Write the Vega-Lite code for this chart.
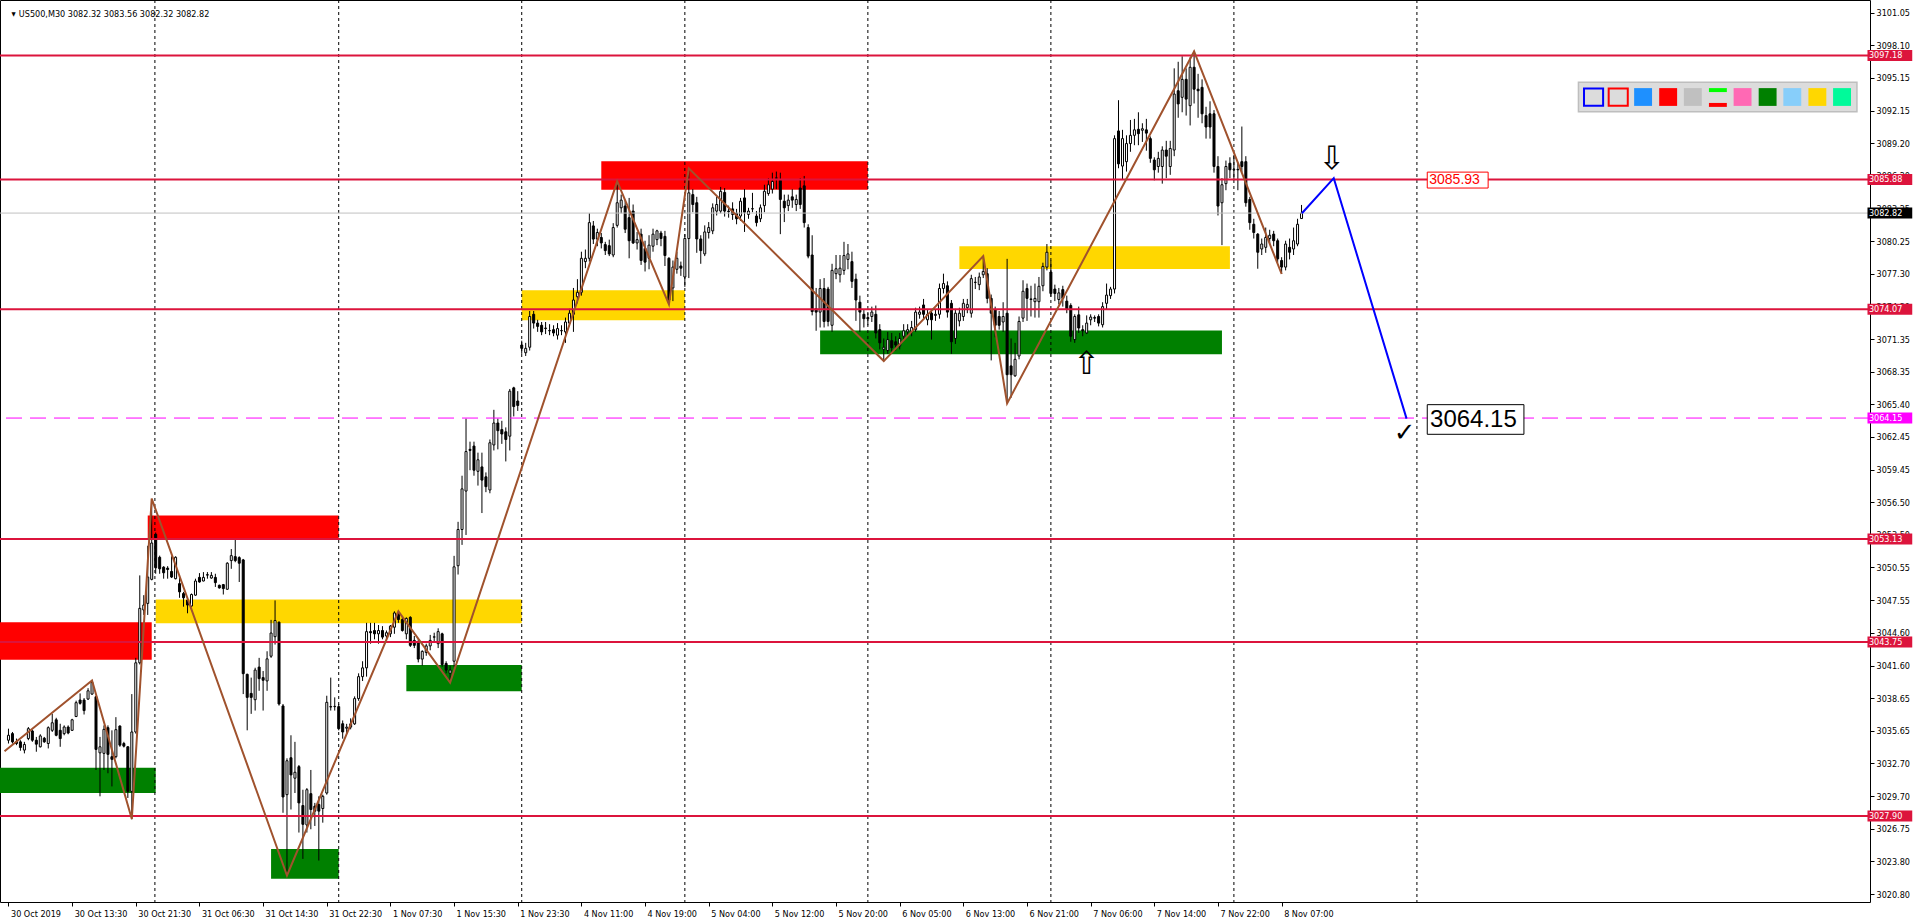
{
"$schema":"https://vega.github.io/schema/vega-lite/v6.json",
"width":1870,"height":902,"autosize":"none",
"padding":{"left":0,"top":0,"right":46,"bottom":21},
"background":"white",
"config":{"view":{"stroke":"black","strokeWidth":1},"font":"DejaVu Sans Condensed, Liberation Sans, sans-serif","axis":{"labelOverlap":false,"labelSeparation":0,"grid":false,"title":null,"domain":false,"labelBound":false,"labelFlush":false}},
"resolve":{"scale":{"color":"independent","fill":"independent","stroke":"independent"}},
"datasets":{
"candles":[
{"i":0,"o":3034.81,"h":3035.86,"l":3034.51,"c":3035.26},
{"i":1,"o":3035.41,"h":3035.56,"l":3034.51,"c":3034.66},
{"i":2,"o":3034.66,"h":3034.96,"l":3034.36,"c":3034.51},
{"i":3,"o":3034.66,"h":3034.81,"l":3033.85,"c":3034.15},
{"i":4,"o":3033.91,"h":3034.66,"l":3033.61,"c":3034.42},
{"i":5,"o":3034.96,"h":3036.01,"l":3034.81,"c":3035.86},
{"i":6,"o":3035.65,"h":3035.77,"l":3034.66,"c":3034.81},
{"i":7,"o":3034.81,"h":3035.11,"l":3033.76,"c":3034.45},
{"i":8,"o":3034.21,"h":3035.35,"l":3034.15,"c":3035.2},
{"i":9,"o":3034.99,"h":3035.11,"l":3034.57,"c":3034.66},
{"i":10,"o":3034.51,"h":3036.07,"l":3034.06,"c":3035.95},
{"i":11,"o":3035.71,"h":3037.21,"l":3035.56,"c":3036.4},
{"i":12,"o":3036.67,"h":3036.85,"l":3035.17,"c":3035.26},
{"i":13,"o":3035.71,"h":3036.31,"l":3034.21,"c":3034.96},
{"i":14,"o":3035.41,"h":3036.16,"l":3035.26,"c":3036.01},
{"i":15,"o":3036.01,"h":3036.16,"l":3035.35,"c":3035.47},
{"i":16,"o":3035.71,"h":3036.76,"l":3035.65,"c":3036.67},
{"i":17,"o":3036.97,"h":3038.41,"l":3036.91,"c":3038.23},
{"i":18,"o":3038.47,"h":3039.07,"l":3038.05,"c":3038.17},
{"i":19,"o":3038.47,"h":3038.65,"l":3037.15,"c":3037.51},
{"i":20,"o":3038.56,"h":3039.55,"l":3038.47,"c":3039.31},
{"i":21,"o":3039.01,"h":3040.27,"l":3038.95,"c":3040.06},
{"i":22,"o":3038.77,"h":3038.86,"l":3032.1,"c":3033.97},
{"i":23,"o":3033.66,"h":3035.11,"l":3029.7,"c":3034.21},
{"i":24,"o":3033.61,"h":3036.16,"l":3032.1,"c":3035.8},
{"i":25,"o":3035.95,"h":3036.16,"l":3031.8,"c":3033.52},
{"i":26,"o":3033.31,"h":3035.71,"l":3030.6,"c":3033.07},
{"i":27,"o":3033.31,"h":3036.91,"l":3033.16,"c":3035.77},
{"i":28,"o":3036.1,"h":3036.16,"l":3034.21,"c":3034.36},
{"i":29,"o":3034.51,"h":3034.66,"l":3034.15,"c":3034.27},
{"i":30,"o":3034.21,"h":3034.27,"l":3029.55,"c":3030.15},
{"i":31,"o":3030.15,"h":3039.01,"l":3027.6,"c":3035.56},
{"i":32,"o":3035.56,"h":3042.31,"l":3035.41,"c":3041.86},
{"i":33,"o":3041.86,"h":3049.82,"l":3041.71,"c":3046.82},
{"i":34,"o":3046.67,"h":3048.02,"l":3046.22,"c":3047.12},
{"i":35,"o":3047.27,"h":3052.52,"l":3046.22,"c":3049.67},
{"i":36,"o":3049.46,"h":3056.79,"l":3049.37,"c":3052.77},
{"i":37,"o":3053.57,"h":3053.73,"l":3049.97,"c":3050.51},
{"i":38,"o":3051.47,"h":3051.62,"l":3049.97,"c":3050.42},
{"i":39,"o":3050.57,"h":3050.66,"l":3049.52,"c":3050.06},
{"i":40,"o":3050.48,"h":3050.66,"l":3049.52,"c":3050.36},
{"i":41,"o":3050.18,"h":3051.56,"l":3049.58,"c":3049.67},
{"i":42,"o":3049.52,"h":3051.56,"l":3049.46,"c":3051.47},
{"i":43,"o":3049.07,"h":3049.82,"l":3047.78,"c":3048.32},
{"i":44,"o":3048.17,"h":3048.32,"l":3046.97,"c":3047.78},
{"i":45,"o":3047.57,"h":3047.72,"l":3046.37,"c":3047.12},
{"i":46,"o":3047.03,"h":3048.17,"l":3046.97,"c":3048.08},
{"i":47,"o":3048.02,"h":3049.52,"l":3047.96,"c":3049.31},
{"i":48,"o":3049.64,"h":3050.03,"l":3049.16,"c":3049.22},
{"i":49,"o":3049.31,"h":3050.12,"l":3049.28,"c":3049.64},
{"i":50,"o":3049.88,"h":3050.12,"l":3049.52,"c":3049.85},
{"i":51,"o":3049.58,"h":3050.12,"l":3049.52,"c":3049.82},
{"i":52,"o":3049.64,"h":3049.97,"l":3048.77,"c":3049.16},
{"i":53,"o":3048.92,"h":3048.98,"l":3048.62,"c":3048.68},
{"i":54,"o":3048.98,"h":3049.04,"l":3048.08,"c":3048.62},
{"i":55,"o":3048.56,"h":3051.02,"l":3048.5,"c":3050.93},
{"i":56,"o":3051.17,"h":3052.22,"l":3050.42,"c":3051.62},
{"i":57,"o":3051.53,"h":3053.06,"l":3051.02,"c":3051.17},
{"i":58,"o":3051.44,"h":3051.56,"l":3049.22,"c":3050.93},
{"i":59,"o":3051.23,"h":3051.32,"l":3039.01,"c":3040.87},
{"i":60,"o":3040.81,"h":3040.87,"l":3035.71,"c":3038.71},
{"i":61,"o":3039.07,"h":3040.51,"l":3037.21,"c":3038.71},
{"i":62,"o":3038.5,"h":3041.41,"l":3037.51,"c":3041.2},
{"i":63,"o":3041.47,"h":3042.31,"l":3039.31,"c":3040.42},
{"i":64,"o":3040.51,"h":3041.11,"l":3037.51,"c":3040.27},
{"i":65,"o":3040.21,"h":3042.91,"l":3039.31,"c":3042.22},
{"i":66,"o":3042.46,"h":3045.77,"l":3042.31,"c":3044.57},
{"i":67,"o":3044.24,"h":3047.54,"l":3043.52,"c":3045.71},
{"i":68,"o":3045.56,"h":3045.62,"l":3037.96,"c":3038.11},
{"i":69,"o":3037.93,"h":3038.11,"l":3028.2,"c":3029.64},
{"i":70,"o":3029.85,"h":3033.16,"l":3022.49,"c":3032.94},
{"i":71,"o":3033.21,"h":3035.26,"l":3028.5,"c":3031.65},
{"i":72,"o":3031.35,"h":3034.66,"l":3030.0,"c":3031.89},
{"i":73,"o":3032.4,"h":3032.55,"l":3026.4,"c":3029.1},
{"i":74,"o":3028.86,"h":3030.3,"l":3024.0,"c":3027.15},
{"i":75,"o":3027.09,"h":3030.45,"l":3026.4,"c":3030.3},
{"i":76,"o":3029.94,"h":3032.1,"l":3026.7,"c":3028.5},
{"i":77,"o":3028.8,"h":3029.1,"l":3027.0,"c":3028.35},
{"i":78,"o":3028.95,"h":3029.7,"l":3023.85,"c":3028.35},
{"i":79,"o":3028.59,"h":3029.85,"l":3027.3,"c":3029.7},
{"i":80,"o":3030.0,"h":3038.86,"l":3029.85,"c":3038.26},
{"i":81,"o":3037.87,"h":3040.51,"l":3037.51,"c":3037.84},
{"i":82,"o":3037.87,"h":3038.71,"l":3037.51,"c":3037.89},
{"i":83,"o":3037.87,"h":3038.11,"l":3035.71,"c":3035.86},
{"i":84,"o":3036.31,"h":3036.61,"l":3034.95,"c":3035.56},
{"i":85,"o":3035.9,"h":3036.3,"l":3035.4,"c":3036.0},
{"i":86,"o":3036.0,"h":3036.8,"l":3035.8,"c":3036.3},
{"i":87,"o":3036.3,"h":3038.8,"l":3036.2,"c":3038.6},
{"i":88,"o":3038.6,"h":3040.9,"l":3038.4,"c":3040.6},
{"i":89,"o":3040.6,"h":3042.0,"l":3040.2,"c":3041.4},
{"i":90,"o":3041.4,"h":3045.5,"l":3040.6,"c":3044.7},
{"i":91,"o":3044.7,"h":3045.5,"l":3043.6,"c":3044.6},
{"i":92,"o":3044.8,"h":3045.5,"l":3044.0,"c":3044.5},
{"i":93,"o":3044.5,"h":3045.3,"l":3043.6,"c":3044.8},
{"i":94,"o":3044.8,"h":3045.2,"l":3044.0,"c":3044.2},
{"i":95,"o":3044.3,"h":3044.8,"l":3043.8,"c":3044.6},
{"i":96,"o":3044.5,"h":3045.3,"l":3044.2,"c":3045.2},
{"i":97,"o":3045.1,"h":3046.55,"l":3044.5,"c":3046.4},
{"i":98,"o":3046.3,"h":3046.5,"l":3045.5,"c":3045.8},
{"i":99,"o":3045.8,"h":3046.0,"l":3044.7,"c":3044.8},
{"i":100,"o":3044.5,"h":3046.0,"l":3044.0,"c":3045.9},
{"i":101,"o":3046.0,"h":3046.1,"l":3043.3,"c":3043.45},
{"i":102,"o":3043.9,"h":3044.3,"l":3043.2,"c":3043.45},
{"i":103,"o":3043.7,"h":3044.0,"l":3041.9,"c":3042.2},
{"i":104,"o":3042.2,"h":3043.0,"l":3041.6,"c":3042.9},
{"i":105,"o":3042.8,"h":3043.6,"l":3042.5,"c":3043.4},
{"i":106,"o":3043.4,"h":3044.4,"l":3043.0,"c":3043.9},
{"i":107,"o":3044.2,"h":3044.6,"l":3043.8,"c":3044.22},
{"i":108,"o":3043.6,"h":3045.0,"l":3043.2,"c":3044.7},
{"i":109,"o":3044.5,"h":3044.6,"l":3041.5,"c":3041.7},
{"i":110,"o":3041.8,"h":3042.0,"l":3040.9,"c":3041.2},
{"i":111,"o":3040.9,"h":3041.6,"l":3040.05,"c":3041.2},
{"i":112,"o":3042.0,"h":3051.6,"l":3041.5,"c":3050.6},
{"i":113,"o":3050.7,"h":3054.7,"l":3049.9,"c":3054.0},
{"i":114,"o":3054.0,"h":3058.9,"l":3052.6,"c":3057.7},
{"i":115,"o":3057.5,"h":3064.1,"l":3053.5,"c":3061.1},
{"i":116,"o":3061.3,"h":3062.0,"l":3059.4,"c":3061.2},
{"i":117,"o":3061.6,"h":3062.0,"l":3058.9,"c":3059.4},
{"i":118,"o":3059.3,"h":3061.0,"l":3058.0,"c":3060.35},
{"i":119,"o":3059.7,"h":3061.0,"l":3055.5,"c":3058.5},
{"i":120,"o":3058.8,"h":3059.2,"l":3057.4,"c":3057.9},
{"i":121,"o":3057.6,"h":3062.2,"l":3057.3,"c":3061.9},
{"i":122,"o":3061.7,"h":3064.9,"l":3061.2,"c":3063.7},
{"i":123,"o":3063.7,"h":3064.1,"l":3061.3,"c":3063.0},
{"i":124,"o":3063.1,"h":3063.9,"l":3061.8,"c":3062.7},
{"i":125,"o":3062.9,"h":3063.3,"l":3060.2,"c":3062.2},
{"i":126,"o":3062.5,"h":3066.8,"l":3061.2,"c":3066.6},
{"i":127,"o":3066.9,"h":3067.0,"l":3064.3,"c":3065.2},
{"i":128,"o":3065.7,"h":3066.6,"l":3064.8,"c":3065.3},
{"i":129,"o":3070.8,"h":3071.2,"l":3070.0,"c":3070.5},
{"i":130,"o":3070.1,"h":3071.0,"l":3069.8,"c":3070.5},
{"i":131,"o":3070.6,"h":3073.9,"l":3070.3,"c":3073.4},
{"i":132,"o":3073.6,"h":3073.9,"l":3072.3,"c":3072.8},
{"i":133,"o":3072.8,"h":3073.1,"l":3072.0,"c":3072.5},
{"i":134,"o":3072.6,"h":3072.9,"l":3071.7,"c":3072.0},
{"i":135,"o":3072.3,"h":3072.9,"l":3071.8,"c":3072.35},
{"i":136,"o":3072.1,"h":3072.7,"l":3071.7,"c":3072.12},
{"i":137,"o":3072.2,"h":3072.6,"l":3071.6,"c":3071.9},
{"i":138,"o":3071.7,"h":3072.8,"l":3071.3,"c":3072.3},
{"i":139,"o":3072.1,"h":3072.6,"l":3071.7,"c":3072.12},
{"i":140,"o":3072.0,"h":3073.3,"l":3071.0,"c":3072.9},
{"i":141,"o":3072.8,"h":3074.1,"l":3072.5,"c":3073.7},
{"i":142,"o":3073.6,"h":3076.0,"l":3072.0,"c":3074.9},
{"i":143,"o":3075.2,"h":3076.8,"l":3074.6,"c":3075.6},
{"i":144,"o":3075.6,"h":3079.3,"l":3075.3,"c":3078.7},
{"i":145,"o":3078.4,"h":3079.5,"l":3077.8,"c":3078.7},
{"i":146,"o":3078.7,"h":3082.8,"l":3078.4,"c":3081.95},
{"i":147,"o":3081.65,"h":3082.1,"l":3080.0,"c":3080.45},
{"i":148,"o":3080.45,"h":3081.4,"l":3079.8,"c":3081.05},
{"i":149,"o":3080.6,"h":3081.0,"l":3079.6,"c":3080.1},
{"i":150,"o":3079.95,"h":3080.2,"l":3079.0,"c":3079.4},
{"i":151,"o":3079.85,"h":3080.4,"l":3078.9,"c":3079.1},
{"i":152,"o":3079.0,"h":3081.9,"l":3078.8,"c":3081.5},
{"i":153,"o":3081.7,"h":3085.7,"l":3081.5,"c":3083.76},
{"i":154,"o":3083.3,"h":3084.5,"l":3082.8,"c":3084.0},
{"i":155,"o":3083.46,"h":3084.0,"l":3081.0,"c":3081.35},
{"i":156,"o":3082.4,"h":3084.2,"l":3078.7,"c":3080.3},
{"i":157,"o":3083.0,"h":3083.6,"l":3080.0,"c":3080.1},
{"i":158,"o":3080.1,"h":3081.1,"l":3079.5,"c":3080.4},
{"i":159,"o":3080.9,"h":3081.4,"l":3078.1,"c":3078.5},
{"i":160,"o":3079.6,"h":3080.3,"l":3077.5,"c":3078.35},
{"i":161,"o":3078.7,"h":3080.8,"l":3077.7,"c":3079.9},
{"i":162,"o":3079.8,"h":3081.4,"l":3079.3,"c":3080.9},
{"i":163,"o":3080.4,"h":3081.3,"l":3079.9,"c":3081.2},
{"i":164,"o":3081.0,"h":3081.2,"l":3079.8,"c":3080.5},
{"i":165,"o":3080.7,"h":3081.2,"l":3078.0,"c":3078.95},
{"i":166,"o":3078.7,"h":3078.8,"l":3074.5,"c":3074.9},
{"i":167,"o":3076.0,"h":3078.5,"l":3074.8,"c":3077.9},
{"i":168,"o":3077.7,"h":3079.3,"l":3077.3,"c":3078.7},
{"i":169,"o":3078.0,"h":3078.4,"l":3077.1,"c":3077.8},
{"i":170,"o":3077.0,"h":3080.9,"l":3076.1,"c":3080.5},
{"i":171,"o":3080.5,"h":3086.9,"l":3076.9,"c":3084.66},
{"i":172,"o":3084.5,"h":3085.0,"l":3082.9,"c":3083.6},
{"i":173,"o":3083.76,"h":3084.3,"l":3079.2,"c":3080.46},
{"i":174,"o":3080.46,"h":3080.8,"l":3078.2,"c":3079.4},
{"i":175,"o":3079.1,"h":3081.7,"l":3078.9,"c":3081.1},
{"i":176,"o":3081.05,"h":3082.0,"l":3080.5,"c":3081.5},
{"i":177,"o":3081.2,"h":3083.7,"l":3080.9,"c":3083.3},
{"i":178,"o":3083.0,"h":3084.3,"l":3082.6,"c":3083.6},
{"i":179,"o":3083.0,"h":3085.2,"l":3082.8,"c":3084.8},
{"i":180,"o":3084.7,"h":3085.1,"l":3082.5,"c":3083.0},
{"i":181,"o":3083.0,"h":3083.5,"l":3082.4,"c":3082.95},
{"i":182,"o":3083.2,"h":3083.8,"l":3082.2,"c":3082.7},
{"i":183,"o":3082.8,"h":3083.2,"l":3081.8,"c":3082.3},
{"i":184,"o":3082.55,"h":3084.2,"l":3082.1,"c":3083.9},
{"i":185,"o":3084.2,"h":3085.0,"l":3081.1,"c":3082.9},
{"i":186,"o":3082.7,"h":3083.3,"l":3082.3,"c":3083.0},
{"i":187,"o":3083.2,"h":3084.66,"l":3082.9,"c":3083.22},
{"i":188,"o":3082.55,"h":3083.0,"l":3081.6,"c":3081.95},
{"i":189,"o":3082.3,"h":3083.6,"l":3082.0,"c":3083.3},
{"i":190,"o":3083.5,"h":3085.4,"l":3082.9,"c":3084.8},
{"i":191,"o":3084.6,"h":3086.0,"l":3084.4,"c":3085.4},
{"i":192,"o":3085.0,"h":3086.5,"l":3084.6,"c":3085.7},
{"i":193,"o":3086.0,"h":3086.6,"l":3085.0,"c":3086.02},
{"i":194,"o":3085.8,"h":3086.5,"l":3080.9,"c":3084.06},
{"i":195,"o":3083.9,"h":3084.5,"l":3082.0,"c":3083.3},
{"i":196,"o":3083.5,"h":3084.5,"l":3083.0,"c":3084.0},
{"i":197,"o":3084.3,"h":3085.0,"l":3083.3,"c":3084.0},
{"i":198,"o":3083.6,"h":3084.5,"l":3083.0,"c":3084.06},
{"i":199,"o":3085.1,"h":3086.0,"l":3083.2,"c":3083.6},
{"i":200,"o":3085.3,"h":3086.2,"l":3081.5,"c":3081.95},
{"i":201,"o":3081.5,"h":3081.8,"l":3078.7,"c":3078.9},
{"i":202,"o":3079.0,"h":3080.8,"l":3073.5,"c":3073.85},
{"i":203,"o":3074.1,"h":3076.0,"l":3072.1,"c":3073.8},
{"i":204,"o":3073.8,"h":3076.8,"l":3072.4,"c":3075.95},
{"i":205,"o":3075.95,"h":3076.9,"l":3072.4,"c":3072.95},
{"i":206,"o":3075.9,"h":3076.1,"l":3072.5,"c":3072.95},
{"i":207,"o":3072.6,"h":3078.2,"l":3072.0,"c":3077.6},
{"i":208,"o":3077.3,"h":3079.0,"l":3076.8,"c":3077.75},
{"i":209,"o":3077.2,"h":3079.0,"l":3076.5,"c":3077.8},
{"i":210,"o":3077.6,"h":3080.2,"l":3077.2,"c":3078.95},
{"i":211,"o":3078.6,"h":3080.0,"l":3077.7,"c":3079.1},
{"i":212,"o":3078.4,"h":3079.3,"l":3076.0,"c":3076.6},
{"i":213,"o":3076.8,"h":3077.3,"l":3073.0,"c":3074.9},
{"i":214,"o":3074.7,"h":3075.3,"l":3072.0,"c":3073.8},
{"i":215,"o":3073.6,"h":3074.0,"l":3072.4,"c":3073.2},
{"i":216,"o":3073.3,"h":3073.7,"l":3072.6,"c":3073.2},
{"i":217,"o":3073.4,"h":3074.3,"l":3072.9,"c":3073.8},
{"i":218,"o":3073.6,"h":3074.4,"l":3071.4,"c":3071.9},
{"i":219,"o":3072.2,"h":3072.7,"l":3070.4,"c":3071.0},
{"i":220,"o":3070.4,"h":3071.4,"l":3069.34,"c":3070.6},
{"i":221,"o":3070.3,"h":3072.0,"l":3070.0,"c":3071.3},
{"i":222,"o":3071.2,"h":3071.9,"l":3070.0,"c":3070.55},
{"i":223,"o":3071.1,"h":3071.6,"l":3070.3,"c":3070.8},
{"i":224,"o":3070.7,"h":3071.9,"l":3070.4,"c":3071.4},
{"i":225,"o":3071.6,"h":3072.7,"l":3071.2,"c":3072.1},
{"i":226,"o":3072.0,"h":3072.7,"l":3071.7,"c":3072.2},
{"i":227,"o":3072.0,"h":3073.0,"l":3071.6,"c":3072.4},
{"i":228,"o":3072.2,"h":3074.2,"l":3072.0,"c":3073.8},
{"i":229,"o":3073.6,"h":3074.3,"l":3073.2,"c":3073.8},
{"i":230,"o":3074.45,"h":3075.0,"l":3073.1,"c":3073.6},
{"i":231,"o":3073.1,"h":3074.0,"l":3072.6,"c":3073.6},
{"i":232,"o":3073.7,"h":3074.0,"l":3071.3,"c":3073.1},
{"i":233,"o":3073.5,"h":3074.0,"l":3073.0,"c":3073.6},
{"i":234,"o":3073.6,"h":3076.4,"l":3073.2,"c":3075.95},
{"i":235,"o":3075.95,"h":3077.3,"l":3075.5,"c":3076.4},
{"i":236,"o":3076.2,"h":3076.6,"l":3073.3,"c":3073.8},
{"i":237,"o":3074.6,"h":3074.9,"l":3070.0,"c":3071.1},
{"i":238,"o":3071.4,"h":3074.1,"l":3070.9,"c":3073.7},
{"i":239,"o":3073.0,"h":3074.2,"l":3072.5,"c":3073.7},
{"i":240,"o":3073.4,"h":3075.0,"l":3073.0,"c":3074.6},
{"i":241,"o":3074.2,"h":3075.0,"l":3073.7,"c":3074.5},
{"i":242,"o":3073.7,"h":3077.2,"l":3073.3,"c":3076.85},
{"i":243,"o":3076.5,"h":3077.0,"l":3075.9,"c":3076.52},
{"i":244,"o":3076.3,"h":3077.4,"l":3075.8,"c":3077.0},
{"i":245,"o":3077.2,"h":3078.9,"l":3076.9,"c":3077.5},
{"i":246,"o":3077.3,"h":3077.8,"l":3074.6,"c":3075.05},
{"i":247,"o":3075.05,"h":3075.4,"l":3069.4,"c":3073.7},
{"i":248,"o":3074.0,"h":3074.3,"l":3071.5,"c":3072.6},
{"i":249,"o":3073.4,"h":3073.9,"l":3072.2,"c":3072.6},
{"i":250,"o":3072.9,"h":3074.7,"l":3072.0,"c":3073.4},
{"i":251,"o":3073.7,"h":3078.65,"l":3065.6,"c":3068.1},
{"i":252,"o":3068.9,"h":3071.4,"l":3066.0,"c":3068.1},
{"i":253,"o":3068.0,"h":3071.0,"l":3067.9,"c":3069.5},
{"i":254,"o":3069.8,"h":3073.4,"l":3069.5,"c":3072.95},
{"i":255,"o":3073.25,"h":3076.7,"l":3072.9,"c":3075.7},
{"i":256,"o":3075.95,"h":3076.4,"l":3073.0,"c":3075.05},
{"i":257,"o":3074.95,"h":3076.2,"l":3073.4,"c":3075.0},
{"i":258,"o":3074.75,"h":3076.4,"l":3073.3,"c":3075.05},
{"i":259,"o":3074.75,"h":3077.0,"l":3073.3,"c":3076.15},
{"i":260,"o":3076.2,"h":3078.3,"l":3075.7,"c":3077.96},
{"i":261,"o":3077.9,"h":3080.0,"l":3077.6,"c":3079.25},
{"i":262,"o":3077.45,"h":3078.5,"l":3075.2,"c":3075.5},
{"i":263,"o":3075.9,"h":3076.3,"l":3074.8,"c":3075.5},
{"i":264,"o":3074.95,"h":3076.0,"l":3074.5,"c":3075.55},
{"i":265,"o":3075.85,"h":3076.2,"l":3074.3,"c":3075.05},
{"i":266,"o":3074.8,"h":3075.3,"l":3073.7,"c":3074.1},
{"i":267,"o":3074.4,"h":3074.6,"l":3071.1,"c":3071.6},
{"i":268,"o":3071.3,"h":3073.6,"l":3071.0,"c":3073.4},
{"i":269,"o":3073.55,"h":3074.3,"l":3071.9,"c":3072.35},
{"i":270,"o":3072.2,"h":3072.6,"l":3071.6,"c":3072.1},
{"i":271,"o":3071.9,"h":3073.5,"l":3071.8,"c":3072.8},
{"i":272,"o":3073.1,"h":3073.6,"l":3072.6,"c":3073.35},
{"i":273,"o":3073.3,"h":3073.5,"l":3072.9,"c":3073.25},
{"i":274,"o":3073.4,"h":3073.6,"l":3072.5,"c":3072.8},
{"i":275,"o":3072.65,"h":3074.7,"l":3072.4,"c":3074.3},
{"i":276,"o":3074.6,"h":3076.4,"l":3074.0,"c":3075.35},
{"i":277,"o":3075.3,"h":3076.1,"l":3075.0,"c":3075.9},
{"i":278,"o":3075.9,"h":3089.9,"l":3075.5,"c":3089.6},
{"i":279,"o":3090.3,"h":3093.1,"l":3086.9,"c":3087.3},
{"i":280,"o":3087.1,"h":3090.4,"l":3085.9,"c":3089.6},
{"i":281,"o":3087.5,"h":3089.9,"l":3086.6,"c":3089.15},
{"i":282,"o":3089.15,"h":3091.3,"l":3088.4,"c":3089.9},
{"i":283,"o":3089.9,"h":3091.4,"l":3089.0,"c":3090.4},
{"i":284,"o":3090.45,"h":3092.0,"l":3089.0,"c":3090.05},
{"i":285,"o":3090.36,"h":3091.0,"l":3089.3,"c":3090.5},
{"i":286,"o":3090.4,"h":3091.4,"l":3088.5,"c":3090.1},
{"i":287,"o":3089.6,"h":3089.8,"l":3087.4,"c":3087.8},
{"i":288,"o":3087.65,"h":3087.9,"l":3085.8,"c":3086.76},
{"i":289,"o":3087.06,"h":3088.4,"l":3086.5,"c":3087.8},
{"i":290,"o":3087.06,"h":3088.9,"l":3085.5,"c":3088.56},
{"i":291,"o":3088.56,"h":3089.4,"l":3086.0,"c":3088.0},
{"i":292,"o":3087.06,"h":3089.4,"l":3086.3,"c":3088.7},
{"i":293,"o":3088.56,"h":3096.0,"l":3088.0,"c":3093.66},
{"i":294,"o":3093.96,"h":3096.6,"l":3091.5,"c":3092.76},
{"i":295,"o":3093.36,"h":3097.1,"l":3092.0,"c":3095.0},
{"i":296,"o":3095.0,"h":3096.0,"l":3091.7,"c":3093.2},
{"i":297,"o":3092.6,"h":3097.0,"l":3090.8,"c":3096.1},
{"i":298,"o":3096.1,"h":3097.6,"l":3092.8,"c":3094.1},
{"i":299,"o":3094.1,"h":3095.5,"l":3091.5,"c":3093.96},
{"i":300,"o":3094.27,"h":3095.0,"l":3091.0,"c":3091.86},
{"i":301,"o":3091.7,"h":3092.5,"l":3089.6,"c":3090.66},
{"i":302,"o":3091.86,"h":3093.0,"l":3089.6,"c":3090.66},
{"i":303,"o":3091.86,"h":3092.2,"l":3086.5,"c":3087.06},
{"i":304,"o":3087.06,"h":3088.0,"l":3082.6,"c":3083.46},
{"i":305,"o":3083.76,"h":3086.0,"l":3079.9,"c":3085.4},
{"i":306,"o":3085.5,"h":3087.6,"l":3084.9,"c":3087.06},
{"i":307,"o":3087.36,"h":3087.9,"l":3086.0,"c":3086.76},
{"i":308,"o":3086.76,"h":3088.1,"l":3085.8,"c":3086.8},
{"i":309,"o":3086.76,"h":3087.4,"l":3084.9,"c":3086.8},
{"i":310,"o":3087.5,"h":3090.7,"l":3086.5,"c":3087.06},
{"i":311,"o":3087.5,"h":3088.0,"l":3083.4,"c":3083.76},
{"i":312,"o":3084.06,"h":3084.3,"l":3081.3,"c":3081.95},
{"i":313,"o":3081.8,"h":3082.3,"l":3080.5,"c":3081.05},
{"i":314,"o":3080.9,"h":3081.0,"l":3077.75,"c":3079.25},
{"i":315,"o":3079.55,"h":3080.5,"l":3079.0,"c":3080.0},
{"i":316,"o":3079.7,"h":3081.5,"l":3079.2,"c":3080.6},
{"i":317,"o":3080.5,"h":3081.3,"l":3080.0,"c":3080.8},
{"i":318,"o":3080.9,"h":3081.2,"l":3079.8,"c":3080.3},
{"i":319,"o":3080.3,"h":3080.5,"l":3078.3,"c":3078.65},
{"i":320,"o":3078.5,"h":3078.8,"l":3077.27,"c":3077.9},
{"i":321,"o":3077.9,"h":3080.3,"l":3077.6,"c":3080.0},
{"i":322,"o":3079.7,"h":3080.5,"l":3078.6,"c":3079.25},
{"i":323,"o":3079.55,"h":3081.5,"l":3079.0,"c":3080.3},
{"i":324,"o":3080.0,"h":3082.3,"l":3079.8,"c":3081.8},
{"i":325,"o":3082.32,"h":3083.56,"l":3082.32,"c":3082.82}
],
"zones":[
{"x1":-5,"x2":36,"y1":3045.55,"y2":3042.13,"z":"red"},
{"x1":-5,"x2":37,"y1":3032.31,"y2":3030.0,"z":"green"},
{"x1":35,"x2":83,"y1":3055.28,"y2":3053.15,"z":"red"},
{"x1":37,"x2":129,"y1":3047.62,"y2":3045.46,"z":"gold"},
{"x1":66,"x2":83,"y1":3024.9,"y2":3022.2,"z":"green"},
{"x1":100,"x2":129,"y1":3041.66,"y2":3039.27,"z":"green"},
{"x1":129,"x2":170,"y1":3075.8,"y2":3073.06,"z":"gold"},
{"x1":149,"x2":216,"y1":3087.54,"y2":3084.95,"z":"red"},
{"x1":204,"x2":305,"y1":3072.13,"y2":3069.97,"z":"green"},
{"x1":239,"x2":307,"y1":3079.79,"y2":3077.72,"z":"gold"}
],
"zigzag":[
{"i":-1,"p":3033.8},{"i":21,"p":3040.24},{"i":31,"p":3027.63},{"i":36,"p":3056.81},{"i":70,"p":3022.49},{"i":98,"p":3046.55},{"i":111,"p":3040.06},{"i":153,"p":3085.7},{"i":166,"p":3074.5},{"i":171,"p":3086.9},{"i":220,"p":3069.34},{"i":245,"p":3078.9},{"i":251,"p":3065.49},{"i":298,"p":3097.54},{"i":320,"p":3077.27}
],
"proj":[{"i":325.1,"p":3082.8},{"i":333.1,"p":3086.0},{"i":351.4,"p":3064.1}],
"seps":[{"i":36.8},{"i":83},{"i":129},{"i":170},{"i":216},{"i":262},{"i":308},{"i":354}],
"levels":[{"p":3097.18},{"p":3085.88},{"p":3074.07},{"p":3053.13},{"p":3043.75},{"p":3027.9}],
"tags":[
{"p":3097.18,"t":"3097.18","k":"lvl"},{"p":3085.88,"t":"3085.88","k":"lvl"},{"p":3082.82,"t":"3082.82","k":"bid"},{"p":3074.07,"t":"3074.07","k":"lvl"},{"p":3064.15,"t":"3064.15","k":"tgt"},{"p":3053.13,"t":"3053.13","k":"lvl"},{"p":3043.75,"t":"3043.75","k":"lvl"},{"p":3027.9,"t":"3027.90","k":"lvl"}
],
"icons":[
{"x1":408.6,"x2":413.1,"y1":3094.2,"y2":3092.58,"k":"a"},
{"x1":414.9,"x2":419.4,"y1":3094.2,"y2":3092.58,"k":"b"},
{"x1":421.1,"x2":425.6,"y1":3094.2,"y2":3092.58,"k":"c"},
{"x1":427.4,"x2":431.9,"y1":3094.2,"y2":3093.84,"k":"d"},
{"x1":427.4,"x2":431.9,"y1":3092.85,"y2":3092.49,"k":"b"},
{"x1":433.6,"x2":438.1,"y1":3094.2,"y2":3092.58,"k":"e"},
{"x1":439.9,"x2":444.4,"y1":3094.2,"y2":3092.58,"k":"f"},
{"x1":446.1,"x2":450.6,"y1":3094.2,"y2":3092.58,"k":"g"},
{"x1":452.4,"x2":456.9,"y1":3094.2,"y2":3092.58,"k":"h"},
{"x1":458.6,"x2":463.1,"y1":3094.2,"y2":3092.58,"k":"j"}
],
"outl":[
{"x1":396.0,"x2":400.8,"y1":3094.16,"y2":3092.6,"k":"blue"},
{"x1":402.2,"x2":407.0,"y1":3094.16,"y2":3092.6,"k":"red"}
]
},
"layer":[
{"data":{"name":"zones"},"mark":{"type":"rect","clip":true},
 "encoding":{
  "x":{"field":"x1","type":"quantitative","scale":{"domain":[-0.875,466.625],"nice":false,"zero":false},
   "axis":{"orient":"bottom","values":[0,16,32,48,64,80,96,112,128,144,160,176,192,208,224,240,256,272,288,304,320],"tickCount":60,
    "labelExpr":"['30 Oct 2019','30 Oct 13:30','30 Oct 21:30','31 Oct 06:30','31 Oct 14:30','31 Oct 22:30','1 Nov 07:30','1 Nov 15:30','1 Nov 23:30','4 Nov 11:00','4 Nov 19:00','5 Nov 04:00','5 Nov 12:00','5 Nov 20:00','6 Nov 05:00','6 Nov 13:00','6 Nov 21:00','7 Nov 06:00','7 Nov 14:00','7 Nov 22:00','8 Nov 07:00'][round(datum.value/16)]",
    "labelAlign":"left","labelBaseline":"top","labelOffset":2,"labelPadding":3,"tickSize":4,"tickColor":"black",
    "labelFontSize":9,"labelColor":"black","labelOverlap":false}},
  "x2":{"field":"x2"},
  "y":{"field":"y1","type":"quantitative","scale":{"domain":[3020.53,3101.77],"nice":false,"zero":false},
   "axis":{"orient":"right","values":[3101.05,3098.10,3095.15,3092.15,3089.20,3086.20,3083.25,3080.25,3077.30,3074.30,3071.35,3068.35,3065.40,3062.45,3059.45,3056.50,3053.50,3050.55,3047.55,3044.60,3041.60,3038.65,3035.65,3032.70,3029.70,3026.75,3023.80,3020.80],"tickCount":60,
    "format":".2f","tickSize":4,"tickColor":"black","labelPadding":2,"labelFontSize":9,"labelColor":"black","labelOverlap":false}},
  "y2":{"field":"y2"},
  "color":{"field":"z","type":"nominal","scale":{"domain":["red","gold","green"],"range":["#FF0000","#FFD700","#008000"]},"legend":null}
 }},
{"data":{"name":"seps"},"mark":{"type":"rule","color":"black","strokeWidth":1,"strokeDash":[3,3]},
 "encoding":{"x":{"field":"i","type":"quantitative"}}},
{"data":{"name":"candles"},"mark":{"type":"rule","color":"black","strokeWidth":1,"clip":true},
 "encoding":{"x":{"field":"i","type":"quantitative"},"y":{"field":"l","type":"quantitative"},"y2":{"field":"h"}}},
{"data":{"name":"candles"},"mark":{"type":"bar","size":2,"stroke":"black","strokeWidth":1,"clip":true},
 "encoding":{"x":{"field":"i","type":"quantitative"},"y":{"field":"o","type":"quantitative"},"y2":{"field":"c"},
  "fill":{"condition":{"test":"datum.c >= datum.o","value":"white"},"value":"black"}}},
{"data":{"name":"levels"},"mark":{"type":"rule","color":"#DC143C","strokeWidth":2},
 "encoding":{"y":{"field":"p","type":"quantitative"}}},
{"data":{"values":[{"p":3082.82}]},"mark":{"type":"rule","color":"#C0C0C0","strokeWidth":1},
 "encoding":{"y":{"field":"p","type":"quantitative"}}},
{"data":{"values":[{"p":3064.15}]},"mark":{"type":"rule","color":"#FF00FF","strokeWidth":1,"strokeDash":[16,8]},
 "encoding":{"y":{"field":"p","type":"quantitative"}}},
{"data":{"name":"zigzag"},"mark":{"type":"line","color":"#A0522D","strokeWidth":2,"clip":true},
 "encoding":{"x":{"field":"i","type":"quantitative"},"y":{"field":"p","type":"quantitative"}}},
{"data":{"name":"proj"},"mark":{"type":"line","color":"#0000FF","strokeWidth":2,"clip":true},
 "encoding":{"x":{"field":"i","type":"quantitative"},"y":{"field":"p","type":"quantitative"}}},
{"data":{"values":[{"x1":394.6,"x2":464.6,"y1":3094.74,"y2":3092.04}]},"mark":{"type":"rect","fill":"#DCDCDC","stroke":"#BEBEBE","strokeWidth":1.5},
 "encoding":{"x":{"field":"x1","type":"quantitative"},"x2":{"field":"x2"},"y":{"field":"y1","type":"quantitative"},"y2":{"field":"y2"}}},
{"data":{"name":"outl"},"mark":{"type":"rect","fill":"#DCDCDC","strokeWidth":2},
 "encoding":{"x":{"field":"x1","type":"quantitative"},"x2":{"field":"x2"},"y":{"field":"y1","type":"quantitative"},"y2":{"field":"y2"},
  "stroke":{"field":"k","type":"nominal","scale":{"domain":["blue","red"],"range":["#0000FF","#FF0000"]},"legend":null}}},
{"data":{"name":"icons"},"mark":{"type":"rect"},
 "encoding":{"x":{"field":"x1","type":"quantitative"},"x2":{"field":"x2"},"y":{"field":"y1","type":"quantitative"},"y2":{"field":"y2"},
  "fill":{"field":"k","type":"nominal","scale":{"domain":["a","b","c","d","e","f","g","h","j"],"range":["#1E90FF","#FF0000","#C0C0C0","#00FF00","#FF69B4","#008000","#87CEFA","#FFD700","#00FA9A"]},"legend":null}}},
{"data":{"values":[{"x1":356.6,"x2":380.9,"y1":3065.37,"y2":3062.67}]},"mark":{"type":"rect","fill":"white","stroke":"black","strokeWidth":1},
 "encoding":{"x":{"field":"x1","type":"quantitative"},"x2":{"field":"x2"},"y":{"field":"y1","type":"quantitative"},"y2":{"field":"y2"}}},
{"data":{"values":[{"i":357.3,"p":3063.98,"t":"3064.15"}]},"mark":{"type":"text","align":"left","baseline":"middle","fontSize":24,"font":"Liberation Sans","color":"black"},
 "encoding":{"x":{"field":"i","type":"quantitative"},"y":{"field":"p","type":"quantitative"},"text":{"field":"t"}}},
{"data":{"values":[{"x1":356.6,"x2":371.9,"y1":3086.55,"y2":3085.1}]},"mark":{"type":"rect","fill":"white","stroke":"#FF0000","strokeWidth":1},
 "encoding":{"x":{"field":"x1","type":"quantitative"},"x2":{"field":"x2"},"y":{"field":"y1","type":"quantitative"},"y2":{"field":"y2"}}},
{"data":{"values":[{"i":357.1,"p":3085.8,"t":"3085.93"}]},"mark":{"type":"text","align":"left","baseline":"middle","fontSize":14,"font":"Liberation Sans","color":"#FF0000"},
 "encoding":{"x":{"field":"i","type":"quantitative"},"y":{"field":"p","type":"quantitative"},"text":{"field":"t"}}},
{"data":{"values":[{"i":332.6,"p":3087.72,"t":"⇩"},{"i":270.9,"p":3069.07,"t":"⇧"}]},"mark":{"type":"text","align":"center","baseline":"middle","fontSize":32,"font":"DejaVu Sans","color":"black"},
 "encoding":{"x":{"field":"i","type":"quantitative"},"y":{"field":"p","type":"quantitative"},"text":{"field":"t"}}},
{"data":{"values":[{"i":350.9,"p":3062.76,"t":"✓"}]},"mark":{"type":"text","align":"center","baseline":"middle","fontSize":26,"font":"DejaVu Sans","fontWeight":"bold","color":"black"},
 "encoding":{"x":{"field":"i","type":"quantitative"},"y":{"field":"p","type":"quantitative"},"text":{"field":"t"}}},
{"data":{"values":[{"i":2.6,"p":3100.96,"t":"US500,M30  3082.32 3083.56 3082.32 3082.82"}]},"mark":{"type":"text","align":"left","baseline":"middle","fontSize":9,"color":"black"},
 "encoding":{"x":{"field":"i","type":"quantitative"},"y":{"field":"p","type":"quantitative"},"text":{"field":"t"}}},
{"data":{"values":[{"i":1.3,"p":3100.96,"t":"▼"}]},"mark":{"type":"text","align":"center","baseline":"middle","fontSize":6,"color":"black"},
 "encoding":{"x":{"field":"i","type":"quantitative"},"y":{"field":"p","type":"quantitative"},"text":{"field":"t"}}},
{"data":{"name":"tags"},"mark":{"type":"bar","size":11,"clip":false},
 "encoding":{"x":{"datum":467.25,"type":"quantitative"},"x2":{"datum":478.5},"y":{"field":"p","type":"quantitative"},
  "color":{"field":"k","type":"nominal","scale":{"domain":["lvl","bid","tgt"],"range":["#DC143C","#000000","#FF00FF"]},"legend":null}}},
{"data":{"name":"tags"},"mark":{"type":"text","align":"left","baseline":"middle","fontSize":9,"color":"white","clip":false},
 "encoding":{"x":{"datum":467.6,"type":"quantitative"},"y":{"field":"p","type":"quantitative"},"text":{"field":"t"}}}
]
}
